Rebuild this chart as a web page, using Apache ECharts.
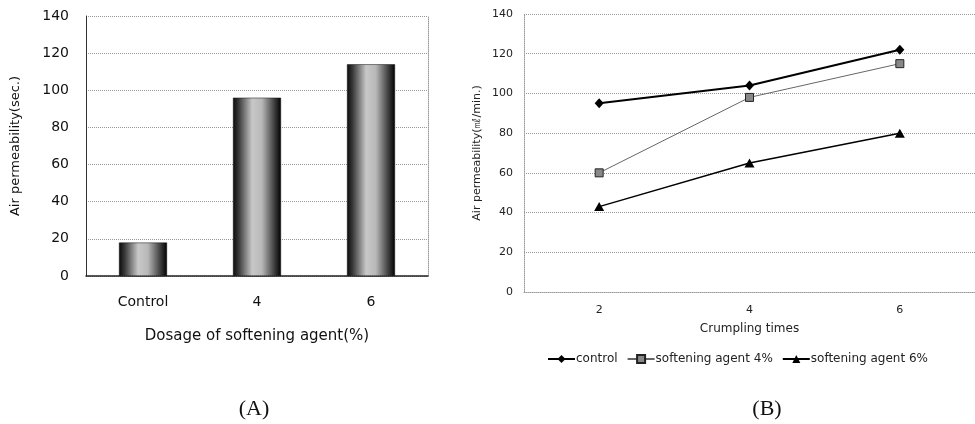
<!DOCTYPE html>
<html>
<head>
<meta charset="utf-8">
<script src="https://cdn.jsdelivr.net/npm/echarts@6/dist/echarts.min.js"></script>
<style>
  html, body { margin: 0; padding: 0; background: #fff; }
  #chart { width: 975px; height: 424px; }
</style>
</head>
<body>
<div id="chart"></div>
<script>
// (A) bar chart data
var dosageCats = ['Control', '4', '6'];
var dosageVals = [18, 96, 114];

// (B) line chart data
var crumpleCats = ['2', '4', '6'];
var controlVals = [95, 104, 122];
var soft4Vals = [60, 98, 115];
var soft6Vals = [43, 65, 80];

var sans = 'DejaVu Sans, Liberation Sans, sans-serif';
var dotted = { color: '#999', type: 'dotted', width: 1 };

var chart = echarts.init(document.getElementById('chart'));

var barFill = new echarts.graphic.LinearGradient(0, 0, 1, 0, [
	{ offset: 0, color: '#0a0a0a' },
	{ offset: 0.12, color: '#3a3a3a' },
	{ offset: 0.4, color: '#c8c8c8' },
	{ offset: 0.6, color: '#b8b8b8' },
	{ offset: 0.85, color: '#444' },
	{ offset: 1, color: '#000' }
]);

chart.setOption({
	animation: false,
	title: [
		{ text: '(A)', left: 249, top: 393, textAlign: 'center',
			textStyle: { fontFamily: 'Liberation Serif, serif', fontSize: 22, fontWeight: 'normal', color: '#111' } },
		{ text: '(B)', left: 762, top: 393, textAlign: 'center',
			textStyle: { fontFamily: 'Liberation Serif, serif', fontSize: 22, fontWeight: 'normal', color: '#111' } }
	],
	legend: {
		left: 542, top: 348,
		itemWidth: 27, itemHeight: 10, itemGap: 9,
		textStyle: { fontFamily: sans, fontSize: 12, color: '#222', padding: [0, 0, 0, -4] },
		data: ['control', 'softening agent 4%', 'softening agent 6%']
	},
	grid: [
		{ left: 86, top: 16, width: 342, height: 260 },
		{ left: 524, top: 14, width: 454, height: 278 }
	],
	xAxis: [
		{
			type: 'category', gridIndex: 0, data: dosageCats,
			axisLine: { lineStyle: { color: '#222', width: 1.5 } },
			axisTick: { show: false },
			axisLabel: { fontFamily: sans, fontSize: 14, color: '#111', margin: 19 },
			name: 'Dosage of softening agent(%)', nameLocation: 'middle', nameGap: 53,
			nameTextStyle: { fontFamily: sans, fontSize: 15, color: '#111' }
		},
		{
			type: 'category', gridIndex: 1, data: crumpleCats,
			axisLine: { lineStyle: dotted },
			axisTick: { show: false },
			axisLabel: { fontFamily: sans, fontSize: 11, color: '#222', margin: 13 },
			name: 'Crumpling times', nameLocation: 'middle', nameGap: 31,
			nameTextStyle: { fontFamily: sans, fontSize: 12, color: '#222' }
		}
	],
	yAxis: [
		{
			type: 'value', gridIndex: 0, min: 0, max: 140, interval: 20,
			axisLine: { show: true, lineStyle: { color: '#333', width: 1 } },
			axisTick: { show: false },
			splitLine: { lineStyle: dotted },
			axisLabel: { fontFamily: sans, fontSize: 14, color: '#111', margin: 17 },
			name: 'Air permeability(sec.)', nameLocation: 'middle', nameGap: 64, nameRotate: 90,
			nameTextStyle: { fontFamily: sans, fontSize: 13, color: '#111' }
		},
		{
			type: 'value', gridIndex: 0, position: 'right', min: 0, max: 140, interval: 20,
			axisLine: { show: true, lineStyle: dotted },
			axisTick: { show: false }, axisLabel: { show: false }, splitLine: { show: false }
		},
		{
			type: 'value', gridIndex: 1, min: 0, max: 140, interval: 20,
			axisLine: { show: true, lineStyle: dotted },
			axisTick: { show: false },
			splitLine: { lineStyle: dotted },
			axisLabel: { fontFamily: sans, fontSize: 11, color: '#222', margin: 11 },
			name: 'Air permeability(㎖/min.)', nameLocation: 'middle', nameGap: 41, nameRotate: 90,
			nameTextStyle: { fontFamily: sans, fontSize: 11, color: '#222' }
		}
	],
	series: [
		{
			type: 'bar', xAxisIndex: 0, yAxisIndex: 0, data: dosageVals,
			barWidth: 48,
			itemStyle: { color: barFill, borderColor: '#111', borderWidth: 0.5 }
		},
		{
			name: 'control', type: 'line', xAxisIndex: 1, yAxisIndex: 2, data: controlVals,
			symbol: 'diamond', symbolSize: [9, 10],
			lineStyle: { color: '#000', width: 2 },
			itemStyle: { color: '#000' }
		},
		{
			name: 'softening agent 4%', type: 'line', xAxisIndex: 1, yAxisIndex: 2, data: soft4Vals,
			symbol: 'rect', symbolSize: 8,
			lineStyle: { color: '#666', width: 1 },
			itemStyle: { color: '#888', borderColor: '#222', borderWidth: 1 }
		},
		{
			name: 'softening agent 6%', type: 'line', xAxisIndex: 1, yAxisIndex: 2, data: soft6Vals,
			symbol: 'triangle', symbolSize: [10, 9],
			lineStyle: { color: '#000', width: 1.5 },
			itemStyle: { color: '#000' }
		}
	]
});
</script>
</body>
</html>
